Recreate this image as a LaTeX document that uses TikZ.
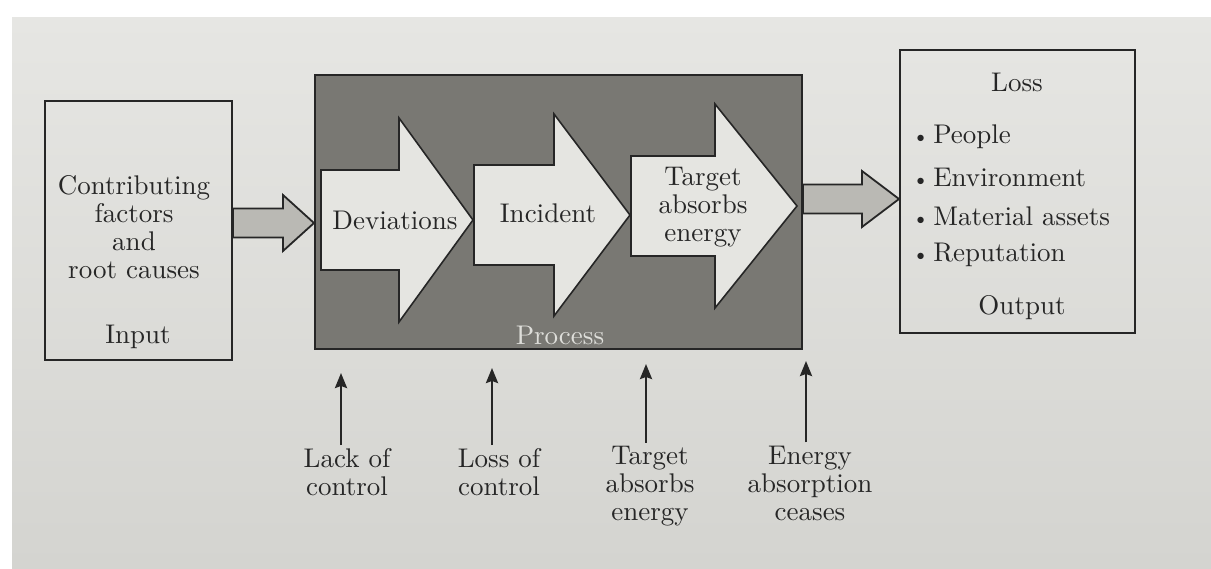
\documentclass[tikz,border=0pt]{standalone}
\usepackage{fontspec}
\setmainfont{lmroman10-regular.otf}
\usetikzlibrary{arrows.meta,calc}
\definecolor{pagetop}{RGB}{230,230,227}
\definecolor{pagebot}{RGB}{212,212,208}
\definecolor{ink}{RGB}{38,38,38}
\definecolor{procfill}{RGB}{121,120,115}
\definecolor{blockfill}{RGB}{229,229,225}
\definecolor{connfill}{RGB}{186,185,180}
\definecolor{proctext}{RGB}{222,222,218}
\newcommand\mybullet{{\fontsize{22}{22}\selectfont\textbullet}\hspace{4pt}}
\tikzset{
  box/.style={draw=ink, line width=2pt, inner sep=0pt},
  txt/.style={text=ink, font=\fontsize{27}{28}\selectfont, align=center, inner sep=0pt},
  blockarrow/.style={draw=ink, line width=1.6pt, fill=blockfill, line join=miter},
  connarrow/.style={draw=ink, line width=1.8pt, fill=connfill, line join=miter},
  uparrow/.style={draw=ink, line width=2.4pt, -{Stealth[length=15pt,width=12pt,inset=2pt]}},
}
\begin{document}
\begin{tikzpicture}[x=1pt,y=-1pt]
\useasboundingbox (0,0) rectangle (1211,568);
\fill[white] (0,0) rectangle (1211,568);
\shade[top color=pagetop, bottom color=pagebot] (12,17) rectangle (1211,568);

% input box
\node[box, minimum width=187pt, minimum height=259pt] (in) at (138.5,230.5) {};
\node[txt] (intext) at (134,227) {Contributing\\factors\\and\\root causes};
\node[txt] (inlabel) at (138,337) {Input};

% process box
\node[box, fill=procfill, minimum width=487pt, minimum height=274pt] (proc) at (558.5,212) {};
\draw[blockarrow] (321,170) -- (399,170) -- (399,118) -- (473,220) -- (399,322) -- (399,270) -- (321,270) -- cycle;
\node[txt] (dev) at (395,220) {Deviations};
\draw[blockarrow] (474,165) -- (554,165) -- (554,114) -- (630,215) -- (554,316) -- (554,265) -- (474,265) -- cycle;
\node[txt] (inc) at (548,213) {Incident};
\draw[blockarrow] (631,156) -- (715,156) -- (715,104) -- (797,206) -- (715,308) -- (715,256) -- (631,256) -- cycle;
\node[txt] (tae) at (703,207) {Target\\absorbs\\energy};
\node[txt, text=proctext] (proclabel) at (560,335) {Process};

% output box
\node[box, minimum width=235pt, minimum height=283pt] (out) at (1017.5,191.5) {};
\node[txt] (loss) at (1017,82) {Loss};
\node[txt, anchor=west] (b1) at (912,137) {\mybullet People};
\node[txt, anchor=west] (b2) at (912,177) {\mybullet Environment};
\node[txt, anchor=west] (b3) at (912,216) {\mybullet Material assets};
\node[txt, anchor=west] (b4) at (912,255) {\mybullet Reputation};
\node[txt] (outlabel) at (1022,308) {Output};

% connectors between boxes
\coordinate (a1t) at (0,208.5);
\coordinate (a1m) at (0,223);
\coordinate (a1b) at (0,237.5);
\draw[connarrow] (in.east |- a1t) -- (283,208.5) -- (283,195) -- (proc.west |- a1m) -- (283,251) -- (283,237.5) -- (in.east |- a1b) -- cycle;
\coordinate (a2t) at (0,184.5);
\coordinate (a2m) at (0,199);
\coordinate (a2b) at (0,213.5);
\draw[connarrow] (proc.east |- a2t) -- (862,184.5) -- (862,171) -- (out.west |- a2m) -- (862,227) -- (862,213.5) -- (proc.east |- a2b) -- cycle;

% bottom labels and arrows
\node[txt] (l1) at (347,472) {Lack of\\control};
\node[txt] (l2) at (499,472) {Loss of\\control};
\node[txt] (l3) at (650,486) {Target\\absorbs\\energy};
\node[txt] (l4) at (810,483) {Energy\\absorption\\ceases};
\coordinate (t1) at (341,373);
\coordinate (t2) at (492,368);
\coordinate (t3) at (646,364);
\coordinate (t4) at (806,361);
\draw[uparrow] (l1.north -| t1) ++(0,-3) -- (t1);
\draw[uparrow] (l2.north -| t2) ++(0,-3) -- (t2);
\draw[uparrow] (l3.north -| t3) ++(0,-3) -- (t3);
\draw[uparrow] (l4.north -| t4) ++(0,-3) -- (t4);
\end{tikzpicture}
\end{document}
